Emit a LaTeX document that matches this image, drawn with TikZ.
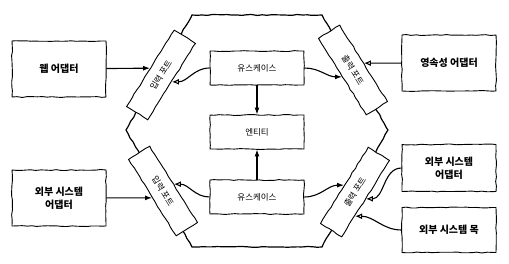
\documentclass[tikz,border=0pt]{standalone}
\usepackage{fontspec}
\setmainfont{Noto Sans CJK KR}
\usetikzlibrary{arrows.meta, calc, decorations.pathmorphing}

\begin{document}
\pgfmathsetseed{42}
\begin{tikzpicture}[
        x=1pt, y=-1pt,
        >={Latex[length=7pt, width=5pt]},
        sketch/.style={decorate, decoration={random steps, segment length=5pt, amplitude=0.5pt}},
        box/.style={draw, sketch, fill=white, align=center, minimum width=94pt,
                    line width=0.9pt},
        adapter/.style={box, minimum height=56pt, font=\bfseries\fontsize{10}{13}\selectfont},
        core/.style={box, minimum height=34pt, font=\fontsize{8.5}{10}\selectfont},
        port/.style={draw, sketch, fill=white, minimum width=90pt, minimum height=25pt,
                     inner sep=1pt, line width=0.9pt, font=\fontsize{8.5}{10}\selectfont},
        link/.style={line width=1.1pt},
        impl/.style={link, -{Latex[open, length=7pt, width=6pt]}}
    ]
        \useasboundingbox (0,0) rectangle (509,263);

        % hexagon
        \draw[sketch, line width=1.2pt] (192,15) -- (322,15) -- (388,130) -- (322,247)
            -- (192,247) -- (126,130) -- cycle;

        \node[adapter] (web)    at (59,69)   {웹 어댑터};
        \node[adapter] (extIn)  at (59,198)  {외부 시스템\\어댑터};
        \node[adapter] (persist) at (449,63) {영속성 어댑터};
        \node[adapter, minimum height=47pt] (extOut) at (449,168) {외부 시스템\\어댑터};
        \node[adapter, minimum height=45pt] (mock)   at (449,230) {외부 시스템 목};

        \node[core] (ucTop)  at (257,68)  {유스케이스};
        \node[core] (entity) at (257,132) {엔티티};
        \node[core] (ucBot)  at (257,197) {유스케이스};

        \node[port, rotate=58]  (inTop)  at (161,75)  {입력 포트};
        \node[port, rotate=-58] (outTop) at (353,70)  {출력 포트};
        \node[port, rotate=-58] (inBot)  at (163,191) {입력 포트};
        \node[port, rotate=58]  (outBot) at (355,192) {출력 포트};

        \draw[->, link] (web) -- (inTop.north);
        \draw[->, link] (extIn) -- (inBot.south);
        \draw[impl] (ucTop.west) to[out=180, in=0] (inTop.south);
        \draw[->, link] (ucTop.east) to[out=0, in=180] (outTop.south);
        \draw[impl] (persist) -- (outTop.north);
        \draw[->, link] (ucTop) -- (entity);
        \draw[->, link] (ucBot) -- (entity);
        \draw[impl] (ucBot.west) to[out=180, in=0] (inBot.north);
        \draw[->, link] (ucBot.east) to[out=0, in=180] (outBot.north);
        \draw[impl] (extOut.west) to[out=180, in=0] (outBot.south);
        \draw[impl] (mock.west) to[out=180, in=0] ($(outBot.south)!0.45!(outBot.south west)$);
    \end{tikzpicture}
\end{document}
